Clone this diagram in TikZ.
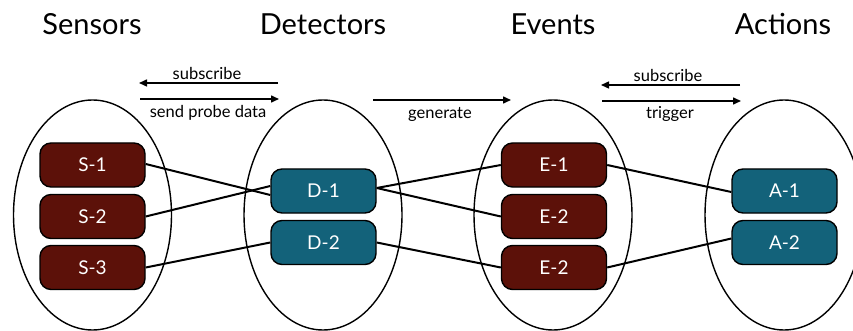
\documentclass[tikz,border=0pt]{standalone}
\usepackage{fontspec}
\setmainfont{Lato}
\usetikzlibrary{arrows.meta}
\definecolor{sred}{HTML}{5C1109}
\definecolor{steal}{HTML}{13627A}
\begin{document}
\begin{tikzpicture}[x=1pt,y=-1pt,
  title/.style={font=\fontsize{29}{31}\selectfont, anchor=center},
  rbox/.style={draw=black, line width=1.4pt, rounded corners=11pt, minimum width=105pt, minimum height=44pt, text=white, font=\fontsize{19}{21}\selectfont, inner sep=0pt},
  redbox/.style={rbox, fill=sred},
  tealbox/.style={rbox, fill=steal},
  link/.style={line width=2pt},
  flow/.style={line width=1.5pt, -{Triangle[length=8pt,width=7pt]}},
  lbl/.style={font=\fontsize{16.5}{18}\selectfont, inner sep=0pt}
]
\useasboundingbox (0,0) rectangle (853,331);
\clip (0,0) rectangle (853,331);
\node[title] (tS) at (92,24) {Sensors};
\node[title] (tD) at (323,24) {Detectors};
\node[title] (tE) at (553,24) {Events};
\node[title] (tA) at (783,24) {Actions};

\foreach \cx in {92.5, 323, 553, 784}{
  \draw[line width=1.4pt] (\cx,215) ellipse [x radius=79, y radius=115];
}

\node[redbox] (S1) at (92.5,165) {S-1};
\node[redbox] (S2) at (92.5,216.5) {S-2};
\node[redbox] (S3) at (92.5,267.5) {S-3};
\node[tealbox] (D1) at (323.5,191) {D-1};
\node[tealbox] (D2) at (323.5,242.5) {D-2};
\node[redbox] (E1) at (554,165) {E-1};
\node[redbox] (E2) at (554,216.5) {E-2};
\node[redbox] (E3) at (554,267.5) {E-2};
\node[tealbox] (A1) at (784.5,191) {A-1};
\node[tealbox] (A2) at (784.5,242.5) {A-2};

\draw[link] ([yshift=1pt]S1.east) -- ([yshift=-4pt]D1.west);
\draw[link] (S2.east) -- ([yshift=5pt]D1.west);
\draw[link] (S3.east) -- (D2.west);
\draw[link] ([yshift=3pt]D1.east) -- (E1.west);
\draw[link] ([yshift=3pt]D1.east) -- (E2.west);
\draw[link] (D2.east) -- (E3.west);
\draw[link] (E1.east) -- ([yshift=-1pt]A1.west);
\draw[link] (E3.east) -- ([yshift=4pt]A2.west);

\coordinate (a1s) at (278,83);  \coordinate (a1e) at (139,83);
\coordinate (a2s) at (140,99);  \coordinate (a2e) at (279,99);
\coordinate (a3s) at (373,100); \coordinate (a3e) at (511,100);
\coordinate (a4s) at (740,85);  \coordinate (a4e) at (601,85);
\coordinate (a5s) at (602,101); \coordinate (a5e) at (741,101);
\draw[flow] (a1s) -- (a1e);
\draw[flow] (a2s) -- (a2e);
\draw[flow] (a3s) -- (a3e);
\draw[flow] (a4s) -- (a4e);
\draw[flow] (a5s) -- (a5e);
\node[lbl] (l1) at (207,73) {subscribe};
\node[lbl] (l2) at (208,113) {send probe data};
\node[lbl] (l3) at (440,114) {generate};
\node[lbl] (l4) at (668,75) {subscribe};
\node[lbl] (l5) at (670,114) {trigger};
\end{tikzpicture}
\end{document}
